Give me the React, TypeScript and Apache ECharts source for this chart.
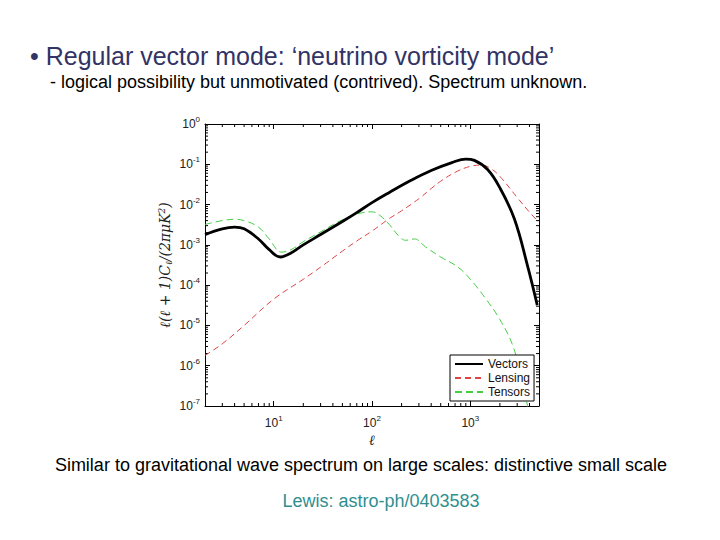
import React, { useEffect, useRef } from "react";
import * as echarts from "echarts";

// multipole values and spectra
const vecEll = [2, 3, 4, 5, 7, 9, 11.7, 15, 20, 30, 50, 70, 100, 150, 250, 400, 650, 900, 1100, 1500, 2000, 2800, 3800, 4800];
const vecVal = [1.8e-3, 2.5e-3, 2.75e-3, 2.5e-3, 1.4e-3, 7.6e-4, 5.0e-4, 6.3e-4, 1.0e-3, 1.8e-3, 3.8e-3, 6.3e-3, 1.12e-2, 2.0e-2, 4.0e-2, 7.0e-2, 0.11, 0.135, 0.125, 0.074, 0.026, 4.5e-3, 3.2e-4, 3.2e-5];

const lenEll = [2, 3, 5, 10, 20, 30, 50, 70, 100, 150, 200, 300, 400, 500, 700, 1000, 1300, 1600, 2000, 3000, 4000, 5000];
const lenVal = [1.8e-6, 3.5e-6, 1.0e-5, 4.5e-5, 1.4e-4, 2.8e-4, 7e-4, 1.25e-3, 2.2e-3, 4.5e-3, 7e-3, 0.014, 0.025, 0.038, 0.063, 0.089, 0.095, 0.08, 0.05, 0.015, 6.5e-3, 3.6e-3];

const tenEll = [2, 3, 4, 5, 7, 9, 12, 15, 20, 30, 50, 80, 100, 120, 150, 190, 220, 270, 350, 500, 750, 1000, 1400, 2000, 2700, 3300, 4000];
const tenVal = [3.2e-3, 4.0e-3, 4.3e-3, 4.0e-3, 2.75e-3, 1.4e-3, 6.6e-4, 7.6e-4, 1.2e-3, 2.1e-3, 4.2e-3, 6.3e-3, 6.6e-3, 5.4e-3, 3.2e-3, 1.6e-3, 1.3e-3, 1.4e-3, 8.9e-4, 5.0e-4, 2.8e-4, 1.4e-4, 5.0e-5, 1.4e-5, 3.2e-6, 5e-7, 6e-8];

const seriesNames = ["Vectors", "Lensing", "Tensors"];
const xRange = [2, 5000];
const yRange = [1e-7, 1];
const xDecades = [1, 10, 100, 1000];
const yDecades = [1e-7, 1e-6, 1e-5, 1e-4, 1e-3, 1e-2, 1e-1];
const minorMults = [2, 3, 4, 5, 6, 7, 8, 9];

const pair = (xs: number[], ys: number[]) => xs.map((x, i) => [x, ys[i]]);

const powFmt = (v: number) => {
  const l = Math.log10(v);
  const e = Math.round(l);
  if (Math.abs(l - e) > 1e-6) return "";
  return `{b|10}{s|${e}}`;
};

const SANS = "Liberation Sans, Arial, sans-serif";
const SERIF = "DejaVu Serif, Liberation Serif, serif";

const labelRich = {
  b: { fontSize: 12, color: "#222", fontFamily: SANS },
  s: { fontSize: 8, color: "#222", padding: [0, 0, 9, 0], fontFamily: SANS },
};

export default function App() {
  const ref = useRef<HTMLDivElement>(null);
  useEffect(() => {
    if (!ref.current) return;
    const chart = echarts.init(ref.current, null, { renderer: "svg" });
    const axisCommon = {
      type: "log" as const,
      logBase: 10,
      axisLine: { lineStyle: { color: "#000", width: 1 } },
      axisTick: { inside: true, length: 5, lineStyle: { color: "#000" } },
      splitLine: { show: false },
    };
    const minorTicks = (params: any, api: any) => {
      const children: any[] = [];
      const ln = (x1: number, y1: number, x2: number, y2: number) =>
        children.push({ type: "line", shape: { x1, y1, x2, y2 }, style: { stroke: "#000", lineWidth: 1 } });
      xDecades.forEach((d) =>
        minorMults.forEach((m) => {
          const v = d * m;
          if (v <= xRange[0] || v >= xRange[1]) return;
          const b = api.coord([v, yRange[0]]);
          const t = api.coord([v, yRange[1]]);
          ln(b[0], b[1], b[0], b[1] - 3);
          ln(t[0], t[1], t[0], t[1] + 3);
        })
      );
      yDecades.forEach((d) =>
        minorMults.forEach((m) => {
          const v = d * m;
          const l = api.coord([xRange[0], v]);
          const r = api.coord([xRange[1], v]);
          ln(l[0], l[1], l[0] + 3, l[1]);
          ln(r[0], r[1], r[0] - 3, r[1]);
        })
      );
      return { type: "group", children };
    };
    chart.setOption({
      animation: false,
      backgroundColor: "#fff",
      grid: { left: 205, top: 124, width: 334, height: 282, show: false },
      xAxis: [
        {
          ...axisCommon,
          min: xRange[0],
          max: xRange[1],
          position: "bottom",
          axisLabel: { formatter: powFmt, rich: labelRich, margin: 8, showMinLabel: false, showMaxLabel: false },
          name: "ℓ",
          nameLocation: "middle",
          nameGap: 27,
          nameTextStyle: { fontFamily: SERIF, fontStyle: "italic", fontSize: 14, color: "#222" },
        },
        {
          ...axisCommon,
          min: xRange[0],
          max: xRange[1],
          position: "top",
          axisLabel: { show: false },
        },
      ],
      yAxis: [
        {
          ...axisCommon,
          min: yRange[0],
          max: yRange[1],
          position: "left",
          axisLabel: { formatter: powFmt, rich: labelRich, margin: 5 },
          name: "ℓ(ℓ + 1)C{sub|ℓ}/(2πμK{sup|2})",
          nameLocation: "middle",
          nameRotate: 90,
          nameGap: 32,
          nameTextStyle: {
            fontFamily: SERIF,
            fontStyle: "italic",
            fontSize: 14,
            color: "#222",
            rich: {
              sub: { fontSize: 9, fontStyle: "italic", fontFamily: SERIF, padding: [7, 0, 0, 0], color: "#222" },
              sup: { fontSize: 9, fontStyle: "italic", fontFamily: SERIF, padding: [0, 0, 7, 0], color: "#222" },
            },
          },
        },
        {
          ...axisCommon,
          min: yRange[0],
          max: yRange[1],
          position: "right",
          axisLabel: { show: false },
        },
      ],
      legend: {
        orient: "vertical",
        left: 450,
        top: 355,
        data: seriesNames,
        backgroundColor: "#fff",
        borderColor: "#000",
        borderWidth: 1,
        borderRadius: 0,
        padding: [3, 4, 3, 4],
        itemGap: 2,
        itemWidth: 28,
        itemHeight: 10,
        itemStyle: { opacity: 0 },
        textStyle: { fontSize: 12, color: "#111", fontFamily: SANS },
      },
      series: [
        {
          name: seriesNames[0],
          type: "line",
          data: pair(vecEll, vecVal),
          smooth: 0.4,
          symbol: "none",
          lineStyle: { color: "#000", width: 2.8 },
          itemStyle: { color: "#000" },
          z: 5,
        },
        {
          name: seriesNames[1],
          type: "line",
          data: pair(lenEll, lenVal),
          smooth: 0.4,
          symbol: "none",
          lineStyle: { color: "#dd4444", width: 1, type: [6, 4] },
          itemStyle: { color: "#dd4444" },
          z: 3,
        },
        {
          name: seriesNames[2],
          type: "line",
          data: pair(tenEll, tenVal),
          smooth: 0.4,
          symbol: "none",
          lineStyle: { color: "#44cc44", width: 1, type: [7, 4] },
          itemStyle: { color: "#44cc44" },
          z: 3,
        },
        {
          name: "minorTicks",
          type: "custom",
          data: [[xRange[0], yRange[0]]],
          renderItem: minorTicks,
          silent: true,
          clip: false,
          z: 2,
        },
      ],
      graphic: [
        {
          type: "text",
          x: 30,
          y: 56,
          style: {
            text: "• Regular vector mode: ‘neutrino vorticity mode’",
            font: "25px 'Liberation Sans', Arial, sans-serif",
            fill: "#333366",
            verticalAlign: "middle",
          },
        },
        {
          type: "text",
          x: 50,
          y: 82,
          style: {
            text: "- logical possibility but unmotivated (contrived). Spectrum unknown.",
            font: "18px 'Liberation Sans', Arial, sans-serif",
            fill: "#000",
            verticalAlign: "middle",
          },
        },
        {
          type: "text",
          x: 361,
          y: 465,
          style: {
            text: "Similar to gravitational wave spectrum on large scales: distinctive small scale",
            font: "18px 'Liberation Sans', Arial, sans-serif",
            fill: "#000",
            align: "center",
            verticalAlign: "middle",
          },
        },
        {
          type: "text",
          x: 381,
          y: 501,
          style: {
            text: "Lewis: astro-ph/0403583",
            font: "18px 'Liberation Sans', Arial, sans-serif",
            fill: "#2f8f8f",
            align: "center",
            verticalAlign: "middle",
          },
        },
      ],
    });
    return () => chart.dispose();
  }, []);
  return (
    <div
      ref={ref}
      style={{ position: "fixed", left: 0, top: 0, width: 720, height: 540, background: "#fff" }}
    />
  );
}
